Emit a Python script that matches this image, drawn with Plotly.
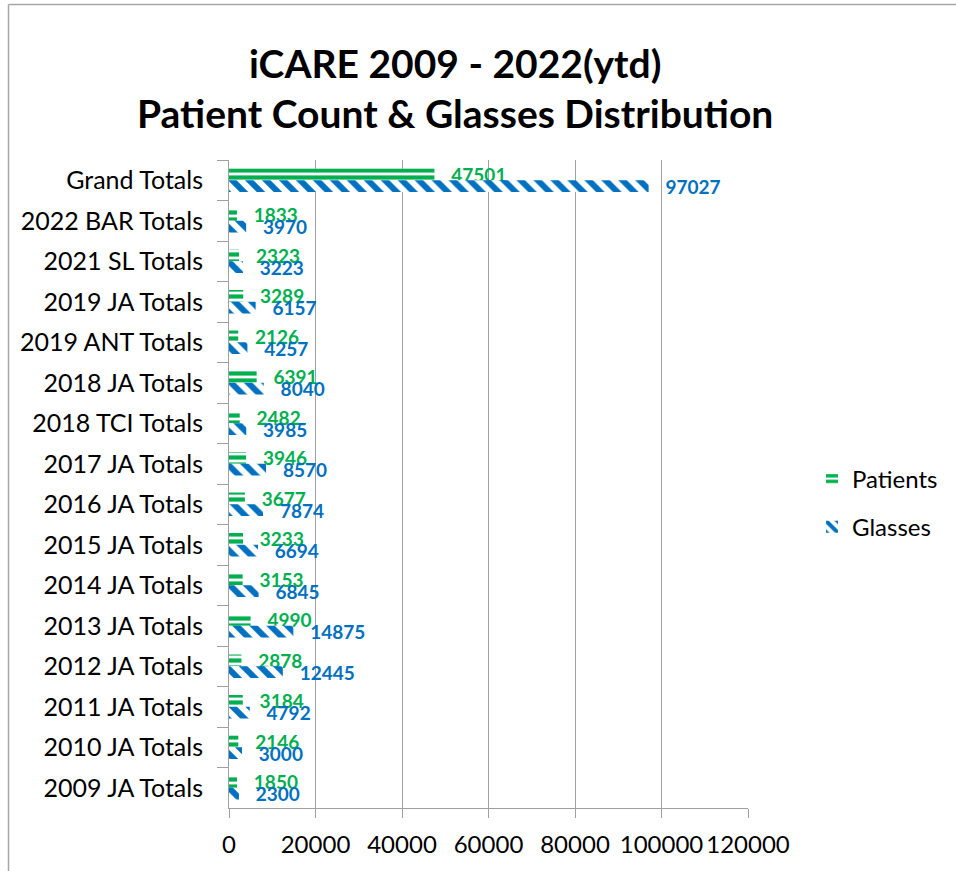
import plotly.graph_objects as go

categories = ["Grand Totals", "2022 BAR Totals", "2021 SL Totals", "2019 JA Totals",
              "2019 ANT Totals", "2018 JA Totals", "2018 TCI Totals", "2017 JA Totals",
              "2016 JA Totals", "2015 JA Totals", "2014 JA Totals", "2013 JA Totals",
              "2012 JA Totals", "2011 JA Totals", "2010 JA Totals", "2009 JA Totals"]
patients = [47501, 1833, 2323, 3289, 2126, 6391, 2482, 3946, 3677, 3233, 3153, 4990,
            2878, 3184, 2146, 1850]
glasses = [97027, 3970, 3223, 6157, 4257, 8040, 3985, 8570, 7874, 6694, 6845, 14875,
           12445, 4792, 3000, 2300]
x_ticks = [0, 20000, 40000, 60000, 80000, 100000, 120000]

title_lines = ["iCARE 2009 - 2022(ytd)", "Patient Count & Glasses Distribution"]

GREEN = "#00B050"
BLUE = "#0070C0"
FONT = "Lato"
W, H = 956, 871
ML, MR, MT, MB = 229, 208, 160, 63
PW, PH = W - ML - MR, H - MT - MB

def px_x(px):
    return (px - ML) / PW

def px_y(py):
    return 1 + (MT - py) / PH

fig = go.Figure()
fig.add_trace(go.Bar(
    y=categories, x=patients, orientation="h", name="Patients",
    marker=dict(color="white", line=dict(width=0),
                pattern=dict(shape="-", fgcolor=GREEN, bgcolor="white", fgopacity=1,
                             size=7, solidity=0.6)),
    text=["\u00a0\u00a0\u00a0" + str(v) for v in patients], textposition="outside",
    textfont=dict(family=FONT, size=19, color=GREEN, weight="bold"),
    cliponaxis=False, legendgroup="p",
))
fig.add_trace(go.Bar(
    y=categories, x=glasses, orientation="h", name="Glasses",
    marker=dict(color="white", line=dict(width=0),
                pattern=dict(shape="\\", fgcolor=BLUE, bgcolor="white", fgopacity=1,
                             size=12, solidity=0.5)),
    text=["\u00a0\u00a0\u00a0" + str(v) for v in glasses], textposition="outside",
    textfont=dict(family=FONT, size=19, color=BLUE, weight="bold"),
    cliponaxis=False, legendgroup="g",
))

fig.update_layout(
    width=W, height=H,
    margin=dict(l=ML, r=MR, t=MT, b=MB, autoexpand=False),
    paper_bgcolor="white", plot_bgcolor="white",
    barmode="group", bargap=0.42, bargroupgap=0,
    font=dict(family=FONT, color="black"),
    showlegend=True,
    legend=dict(x=px_x(812), xanchor="left", y=px_y(503), yanchor="middle",
                font=dict(family=FONT, size=24, color="black"),
                traceorder="grouped", tracegroupgap=14, itemwidth=30,
                bgcolor="rgba(0,0,0,0)"),
)
for line, py in zip(title_lines, [63, 113]):
    fig.add_annotation(text=line, xref="paper", yref="paper",
                       x=px_x(455), y=px_y(py), xanchor="center", yanchor="middle",
                       showarrow=False,
                       font=dict(family=FONT, size=39, color="black", weight="bold"))

fig.update_traces(constraintext="none")

fig.update_xaxes(range=[0, 120000], tickvals=x_ticks, ticktext=[str(t) for t in x_ticks],
                 showgrid=True, gridcolor="#A0A0A0", gridwidth=1,
                 showline=True, linecolor="#A0A0A0", linewidth=1,
                 ticks="outside", ticklen=9, tickcolor="#A0A0A0",
                 tickfont=dict(family=FONT, size=24, color="black"),
                 ticklabelstandoff=6, zeroline=False, fixedrange=True)
fig.update_yaxes(autorange="reversed", type="category",
                 showline=True, linecolor="#A0A0A0", linewidth=1,
                 ticks="outside", ticklen=11, tickcolor="#A0A0A0", tickson="boundaries",
                 tickfont=dict(family=FONT, size=25, color="black"),
                 ticklabelstandoff=20, showgrid=False, fixedrange=True)

# chart border (top and left edges visible)
fig.add_shape(type="line", xref="paper", yref="paper",
              x0=px_x(8.5), x1=px_x(W + 5), y0=px_y(4.5), y1=px_y(4.5),
              line=dict(color="#A6A6A6", width=1.5))
fig.add_shape(type="line", xref="paper", yref="paper",
              x0=px_x(8.5), x1=px_x(8.5), y0=px_y(4.5), y1=px_y(H + 5),
              line=dict(color="#A6A6A6", width=1.5))

fig.write_html("out.html", config={"displayModeBar": False},
               post_script="document.body.style.margin='0';document.body.style.overflow='hidden';")
